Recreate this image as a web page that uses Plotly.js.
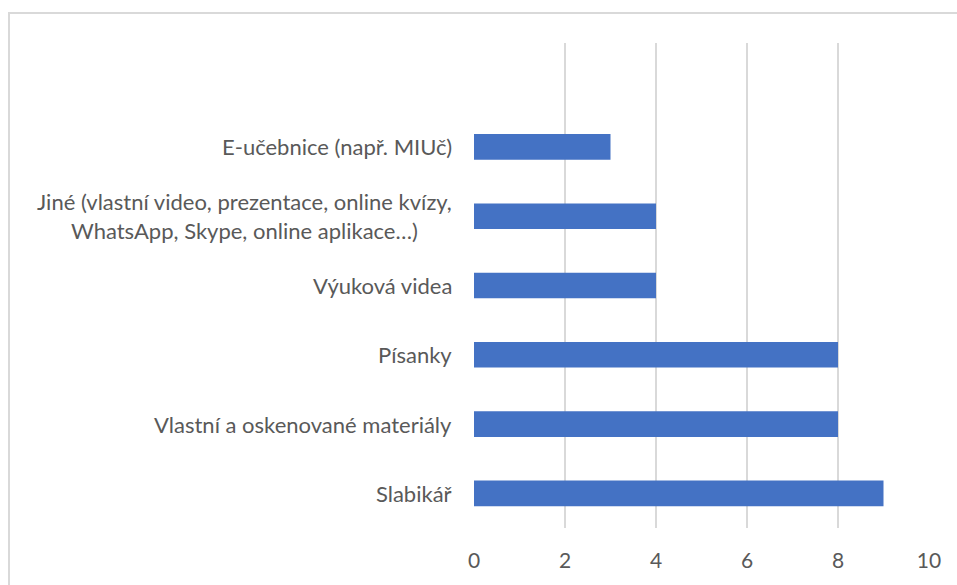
<!DOCTYPE html>
<html>
<head>
<meta charset="utf-8">
<script src="https://cdn.plot.ly/plotly-3.0.1.min.js"></script>
<style>
html,body{margin:0;padding:0;background:#fff;}
#wrap{position:relative;width:957px;height:585px;overflow:hidden;}
#chart{width:957px;height:585px;}
#frame{position:absolute;left:8px;top:12px;width:1000px;height:700px;border:2px solid #d9d9d9;pointer-events:none;box-sizing:border-box;}
</style>
</head>
<body>
<div id="wrap"><div id="chart"></div><div id="frame"></div></div>
<script>
const categories = [
  "Slabikář",
  "Vlastní a oskenované materiály",
  "Písanky",
  "Výuková videa",
  "Jiné (vlastní video, prezentace, online kvízy,<br>WhatsApp, Skype, online aplikace…)",
  "E-učebnice (např. MIUč)"
];
const values = [9, 8, 8, 4, 4, 3];
const xTicks = [0, 2, 4, 6, 8, 10];

const FONT = "Lato, 'Open Sans', sans-serif";
const TEXT = "#595959";

const trace = {
  type: "bar",
  orientation: "h",
  x: values,
  y: categories.map((c, i) => i),
  width: 0.37,
  marker: {color: "#4472C4"},
  hoverinfo: "x"
};

const annotations = categories.map((c, i) => ({
  xref: "x", yref: "y",
  x: 0, y: i,
  text: c,
  showarrow: false,
  xanchor: "right", yanchor: "middle",
  xshift: -20,
  align: "center",
  font: {family: FONT, size: 22, color: TEXT}
}));

const layout = {
  width: 957, height: 585,
  margin: {l: 474, r: 28, t: 43, b: 57, pad: 0},
  paper_bgcolor: "rgba(0,0,0,0)",
  plot_bgcolor: "#fff",
  showlegend: false,
  xaxis: {
    range: [0, 10],
    tickvals: xTicks,
    ticktext: xTicks.map(String),
    showgrid: true, gridcolor: "#d9d9d9", gridwidth: 1.5,
    zeroline: false, showline: false,
    ticks: "", ticklen: 0,
    ticklabelstandoff: 18,
    tickfont: {family: FONT, size: 21, color: TEXT},
    automargin: false
  },
  yaxis: {
    type: "linear",
    range: [-0.5, 6.5],
    showticklabels: false,
    showgrid: false, zeroline: false, showline: false,
    ticks: ""
  },
  annotations: annotations
};

Plotly.newPlot("chart", [trace], layout, {displayModeBar: false, staticPlot: true});
</script>
</body>
</html>
